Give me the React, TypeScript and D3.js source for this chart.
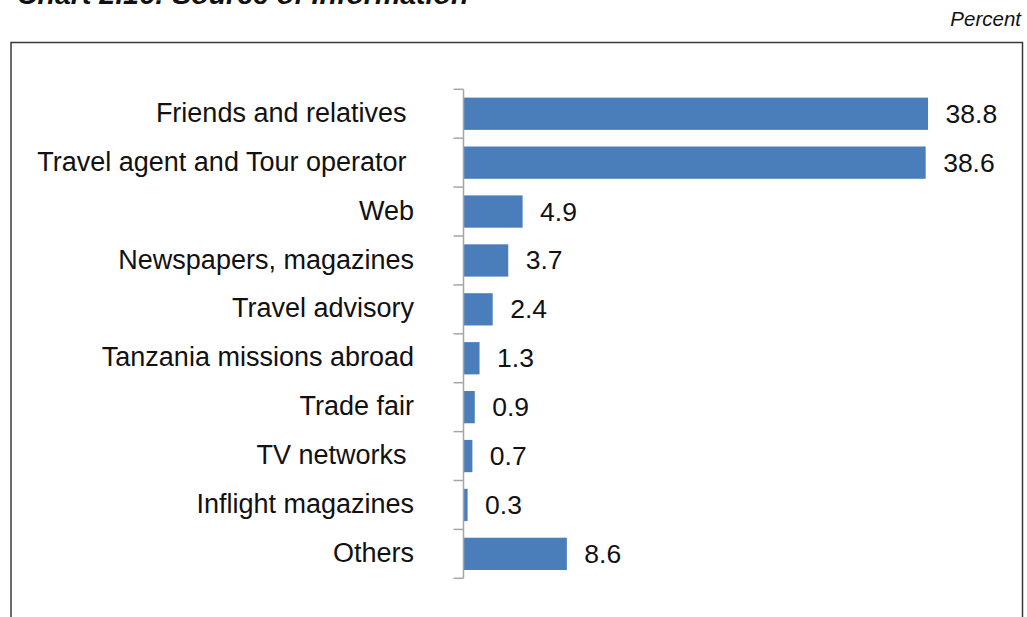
import { useEffect, useRef } from 'react'
import * as d3 from 'd3'

// categories (trailing spaces kept as in the source labels)
const categories = [
  'Friends and relatives ',
  'Travel agent and Tour operator ',
  'Web',
  'Newspapers, magazines',
  'Travel advisory',
  'Tanzania missions abroad',
  'Trade fair',
  'TV networks ',
  'Inflight magazines',
  'Others',
]
const values = [38.8, 38.6, 4.9, 3.7, 2.4, 1.3, 0.9, 0.7, 0.3, 8.6]

const width = 1027
const height = 617

export default function App() {
  const svgRef = useRef<SVGSVGElement>(null)

  useEffect(() => {
    if (!svgRef.current) return
    const svg = d3.select(svgRef.current)
    svg.selectAll('*').remove()

    const font = '"Liberation Sans", Arial, Helvetica, sans-serif'

    // title, mostly cut off at the top (as in the source)
    svg
      .append('text')
      .attr('x', 17)
      .attr('y', 4)
      .attr('font-family', font)
      .attr('font-size', 28.5)
      .attr('font-weight', 'bold')
      .attr('font-style', 'italic')
      .attr('fill', '#111')
      .text('Chart 2.16: Source of Information')

    svg
      .append('text')
      .attr('x', 1021)
      .attr('y', 26)
      .attr('text-anchor', 'end')
      .attr('font-family', font)
      .attr('font-size', 20.5)
      .attr('font-style', 'italic')
      .attr('fill', '#111')
      .text('Percent')

    // frame
    svg
      .append('path')
      .attr('d', `M11,${height + 5} V42.5 H1022.5 V${height + 5}`)
      .attr('fill', 'none')
      .attr('stroke', '#3a3a3a')
      .attr('stroke-width', 1.5)

    const x = d3.scaleLinear().domain([0, 45]).range([463.5, 463.5 + 45 * 11.96])
    const y = d3.scaleBand<string>().domain(categories).range([89.3, 578.3]).paddingInner(0.34).paddingOuter(0.17)

    const g = svg.append('g')

    g.selectAll('rect')
      .data(values)
      .enter()
      .append('rect')
      .attr('x', x(0) + 0.5)
      .attr('y', (_, i) => y(categories[i])!)
      .attr('width', (d) => x(d) - x(0))
      .attr('height', y.bandwidth())
      .attr('fill', '#4a7ebb')

    // axis with ticks at band boundaries
    const step = y.step()
    const axisG = svg.append('g').attr('stroke', '#a6a6a6').attr('stroke-width', 1.5)
    axisG
      .append('line')
      .attr('x1', x(0))
      .attr('x2', x(0))
      .attr('y1', 89.3)
      .attr('y2', 578.3)
    axisG
      .selectAll('line.tick')
      .data(d3.range(categories.length + 1))
      .enter()
      .append('line')
      .attr('class', 'tick')
      .attr('x1', x(0) - 10)
      .attr('x2', x(0))
      .attr('y1', (i) => 89.3 + i * step)
      .attr('y2', (i) => 89.3 + i * step)

    // category labels
    svg
      .append('g')
      .selectAll('text')
      .data(categories)
      .enter()
      .append('text')
      .attr('x', 414)
      .attr('y', (d) => y(d)! + y.bandwidth() / 2)
      .attr('dy', '0.3em')
      .attr('text-anchor', 'end')
      .attr('font-family', font)
      .attr('font-size', 27)
      .attr('fill', '#111')
      .style('white-space', 'pre')
      .text((d) => d)

    // value labels
    svg
      .append('g')
      .selectAll('text')
      .data(values)
      .enter()
      .append('text')
      .attr('x', (d) => x(d) + 18)
      .attr('y', (_, i) => y(categories[i])! + y.bandwidth() / 2)
      .attr('dy', '0.34em')
      .attr('font-family', font)
      .attr('font-size', 26.5)
      .attr('fill', '#111')
      .text((d) => d.toFixed(1))
  }, [])

  return (
    <div style={{ position: 'absolute', left: 0, top: 0 }}>
      <svg ref={svgRef} width={width} height={height} style={{ display: 'block', background: '#fff' }} />
    </div>
  )
}
